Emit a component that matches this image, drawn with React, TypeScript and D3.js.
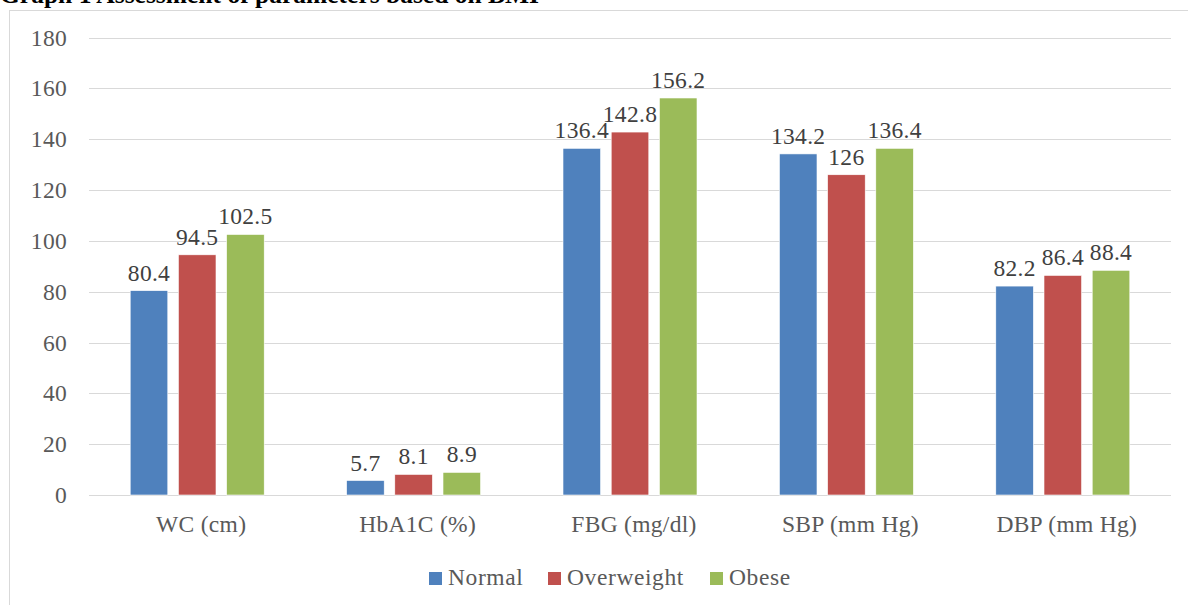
import React from "react";
import * as d3 from "d3";

const categories = ["WC (cm)", "HbA1C (%)", "FBG (mg/dl)", "SBP (mm Hg)", "DBP (mm Hg)"];
const seriesNames = ["Normal", "Overweight", "Obese"];
const normal = [80.4, 5.7, 136.4, 134.2, 82.2];
const overweight = [94.5, 8.1, 142.8, 126, 86.4];
const obese = [102.5, 8.9, 156.2, 136.4, 88.4];
const yTicks = [0, 20, 40, 60, 80, 100, 120, 140, 160, 180];
const colors = ["#4F81BD", "#C0504D", "#9BBB59"];
const title = "Graph 1 Assessment of parameters based on BMI";

const W = 1188;
const H = 605;
const font = "'Liberation Serif', 'Times New Roman', serif";
const FS = 23.5;

export default function App() {
  const series = [normal, overweight, obese];
  const left = 89;
  const right = 1171;
  const top = 37.5;
  const bottom = 495;
  const y = d3.scaleLinear().domain([0, 180]).range([bottom, top]);
  const x0 = d3.scaleBand<string>().domain(categories).range([left, right]).paddingInner(0).paddingOuter(0);
  const groupW = 134;
  const x1 = d3.scaleBand<string>().domain(seriesNames).range([0, groupW]).paddingInner(0.22);
  const legendItems = [
    { name: "Normal", x: 429 },
    { name: "Overweight", x: 548 },
    { name: "Obese", x: 710 },
  ];
  return (
    <svg width={W} height={H} style={{ position: "absolute", left: 0, top: 0 }} fontFamily={font}>
      <rect x={0} y={0} width={W} height={H} fill="#fff" />
      <text x={0} y={3} fontSize={25.5} fontWeight="bold" fill="#000">{title}</text>
      <rect x={9.5} y={10.5} width={W + 20} height={H + 20} fill="none" stroke="#d9d9d9" strokeWidth={1} />
      {yTicks.map((t) => (
        <g key={t}>
          <line x1={left} x2={right} y1={Math.round(y(t)) + 0.5} y2={Math.round(y(t)) + 0.5} stroke="#d9d9d9" strokeWidth={1} />
          <text x={67} y={y(t) + 8} textAnchor="end" fontSize={FS} letterSpacing={0.3} fill="#595959">{t}</text>
        </g>
      ))}
      {categories.map((c, i) => {
        const cx = (x0(c) as number) + x0.bandwidth() / 2;
        const gx = cx - groupW / 2;
        return (
          <g key={c}>
            {series.map((s, j) => {
              const bx = gx + (x1(seriesNames[j]) as number);
              const bw = x1.bandwidth();
              return (
                <g key={j}>
                  <rect x={bx} y={y(s[i])} width={bw} height={y(0) - y(s[i])} fill={colors[j]} stroke="#fff" strokeWidth={0.6} />
                  <text x={bx + bw / 2} y={y(s[i]) - 10} textAnchor="middle" fontSize={FS} letterSpacing={0.3} fill="#404040">{s[i]}</text>
                </g>
              );
            })}
            <text x={cx + 4} y={532} textAnchor="middle" fontSize={FS} letterSpacing={0.3} fill="#595959">{c}</text>
          </g>
        );
      })}
      {legendItems.map((l, j) => (
        <g key={l.name}>
          <rect x={l.x} y={572} width={13} height={13} fill={colors[j]} />
          <text x={l.x + 19} y={585} fontSize={FS} letterSpacing={0.6} fill="#595959">{l.name}</text>
        </g>
      ))}
    </svg>
  );
}
